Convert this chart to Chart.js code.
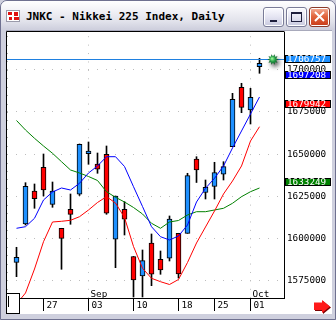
<!DOCTYPE html>
<html>
<head>
<meta charset="utf-8">
<title>JNKC - Nikkei 225 Index, Daily</title>
<script src="https://cdn.jsdelivr.net/npm/chart.js@4.4.1/dist/chart.umd.min.js"></script>
<style>
html,body{margin:0;padding:0;}
body{width:336px;height:320px;overflow:hidden;position:relative;background:#cfd0de;}
#outer{position:absolute;left:0;top:0;width:334px;height:318px;border:1px solid #6f7190;border-radius:7px 7px 0 0;}
#titlebar{position:absolute;left:1px;top:1px;width:334px;height:28px;border-radius:6px 6px 0 0;
  background:linear-gradient(to bottom,#ffffff 0%,#f1f1f6 35%,#e0e1ea 75%,#cfd0de 100%);}
#ttl{position:absolute;left:26px;top:10px;font:bold 11px "DejaVu Sans Mono",monospace;line-height:13px;color:#000;white-space:pre;}
#icon{position:absolute;left:6px;top:10px;width:14px;height:12px;background:#fff;border:1px solid #9a9aaa;box-sizing:border-box;}
#icon i{position:absolute;background:#e01010;display:block;}
.btn{position:absolute;top:7px;width:21px;height:20px;box-sizing:border-box;border:1px solid #7a7c98;border-radius:3px;
  background:linear-gradient(to bottom,#fbfbff 0%,#e4e4f2 50%,#c8c9de 100%);box-shadow:inset 0 0 0 1px #fff;}
#bclose{left:309px;border-color:#8a3a2a;background:linear-gradient(to bottom,#f4b09a 0%,#e2673f 45%,#c83a18 100%);}
#client{position:absolute;left:6px;top:30px;width:326px;height:284px;background:#fff;border-top:1px solid #a8a9bb;box-sizing:border-box;}
canvas{position:absolute;left:0;top:0;}
#sbox{position:absolute;left:6px;top:293px;width:14px;height:21px;box-sizing:border-box;border:1px solid #000;background:#fff;}
#sbox i{position:absolute;left:1px;top:2px;width:1px;height:11px;background:#000;display:block;}
#arrow{position:absolute;left:313px;top:299px;}
</style>
</head>
<body>
<div id="outer"></div>
<div id="titlebar"></div>
<div id="icon"><i style="left:1px;top:1px;width:4px;height:3px"></i><i style="left:7px;top:1px;width:4px;height:4px"></i><i style="left:2px;top:6px;width:3px;height:3px"></i><i style="left:7px;top:6px;width:5px;height:3px"></i></div>
<div id="ttl">JNKC - Nikkei 225 Index, Daily</div>
<div class="btn" style="left:263px"><span style="position:absolute;left:6px;top:12px;width:7px;height:2px;background:#1e1e3c"></span></div>
<div class="btn" style="left:286px"><span style="position:absolute;left:4px;top:4px;width:11px;height:10px;box-sizing:border-box;border:1px solid #1e1e3c;border-top-width:2px"></span></div>
<div class="btn" id="bclose"><svg width="21" height="20" style="position:absolute;left:-1px;top:-1px"><path d="M6 5 L15 14 M15 5 L6 14" stroke="#fff" stroke-width="2"/></svg></div>
<div id="client"></div>
<canvas id="c" width="336" height="320"></canvas>
<div id="sbox"><i></i></div>
<svg id="arrow" width="20" height="16">
  <polygon points="2,4.5 10,4.5 10,2 18,8.5 10,15 10,12 2,12" fill="#7a0000"/>
  <polygon points="1,3.5 9,3.5 9,1 17,7.5 9,14 9,11 1,11" fill="#ff1a1a"/>
</svg>
<script>
// ---- data ----
const dates = ['08/22','08/23','08/24','08/27','08/28','08/29','08/30','08/31','09/03','09/04','09/05','09/06','09/07','09/10','09/11','09/12','09/13','09/14','09/18','09/19','09/20','09/21','09/25','09/26','09/27','09/28','10/01','10/02'];
const openP  = [1585750,1608490,1628090,1642160,1620190,1605940,1617220,1626130,1650240,1644120,1649880,1599410,1617220,1589200,1577620,1597210,1587530,1588130,1602970,1602970,1647090,1627200,1630760,1638010,1654400,1689670,1676190,1701900];
const highP  = [1594660,1633020,1632250,1650060,1633430,1605940,1626310,1656000,1657190,1650650,1654810,1625120,1621740,1589200,1593060,1602560,1592460,1613250,1602970,1638600,1648460,1634620,1645130,1645490,1686100,1692040,1689070,1706890];
const lowP   = [1577200,1607900,1617820,1625120,1618410,1581600,1608320,1625420,1643940,1638600,1614250,1582550,1601960,1565150,1565150,1571860,1578630,1586520,1576430,1602970,1633140,1623340,1623340,1634620,1654400,1674580,1667870,1697980];
const closeP = [1588720,1630880,1623520,1628680,1628090,1600000,1614250,1655820,1651840,1640980,1614850,1625120,1611290,1575240,1586700,1578630,1581180,1611460,1578800,1637180,1640560,1630290,1639080,1642520,1682540,1677790,1683730,1703920];
const maBlue  = [1605940,1606890,1611880,1622750,1627500,1629870,1628680,1632660,1638780,1642940,1648460,1648460,1642640,1630640,1618890,1606890,1600950,1598990,1601370,1607900,1621560,1629690,1635630,1642940,1653620,1663720,1673810,1683910];
const maRed   = [1560990,1567520,1581770,1597980,1609680,1610100,1610690,1612830,1616810,1621260,1624710,1620960,1612350,1595130,1582190,1576250,1574230,1572570,1575540,1585630,1597210,1606710,1616210,1626310,1634030,1642940,1657780,1666270];
const maGreen = [1669950,1664310,1659380,1654810,1650480,1645490,1640560,1638780,1636700,1634330,1627670,1624350,1621560,1618290,1614430,1608910,1605940,1609680,1610570,1613840,1615800,1615800,1616810,1617820,1620790,1624710,1627670,1629870];
const currentPrice = 1706757;
const tagValues = [1706757, 1697208, 1679942, 1633249];
const yTickValues = [1575000, 1600000, 1625000, 1650000, 1675000, 1700000];
const xTickIdx = [3, 8, 13, 18, 22, 26];
const monthIdx = [8, 26];
const monthNames = ['Sep', 'Oct'];
const yMin = 1564550, yMax = 1722500;
const xMin = -1.05556, xMax = 29.7222;
const markerIndex = 28.5;
const minorStep = 5000;

// ---- styles ----
const upColor = '#1e90ff', downColor = '#ff0000';
const tagColors = ['#1e90ff', '#0000ff', '#ff0000', '#008000'];
const FONT = '"DejaVu Sans Mono", monospace';
const FSIZE = 9.3;

const idx = dates.map((d, i) => i);
const wickData = idx.map(i => ({x: i, y: [lowP[i], highP[i]]}));
const bodyData = idx.map(i => ({x: i, y: [openP[i], closeP[i]]}));
const bodyColors = idx.map(i => closeP[i] >= openP[i] ? upColor : downColor);
const line = (arr) => idx.map(i => ({x: i, y: arr[i]}));

function drawStar(ctx, x, y) {
  ctx.save();
  ctx.shadowColor = 'rgba(0,0,0,0.6)'; ctx.shadowBlur = 4; ctx.shadowOffsetX = 2; ctx.shadowOffsetY = 3;
  ctx.beginPath();
  const n = 10;
  for (let k = 0; k < 2 * n; k++) {
    const r = k % 2 ? 3.3 : 5.6; const a = k * Math.PI / n;
    ctx.lineTo(x + r * Math.cos(a), y + r * Math.sin(a));
  }
  ctx.closePath();
  const g = ctx.createRadialGradient(x - 1, y - 1, 0.5, x, y, 5.6);
  g.addColorStop(0, '#8fef8f'); g.addColorStop(0.45, '#239a45'); g.addColorStop(1, '#0a4a1c');
  ctx.fillStyle = g; ctx.fill();
  ctx.restore();
}

const overlay = {
  id: 'overlay',
  afterDatasetsDraw(chart) {
    const {ctx, chartArea: a, scales: {x, y}} = chart;
    ctx.save();
    const py = Math.round(y.getPixelForValue(currentPrice)) + 0.5;
    ctx.strokeStyle = '#1f80e0'; ctx.lineWidth = 1;
    ctx.beginPath(); ctx.moveTo(a.left, py); ctx.lineTo(a.right, py); ctx.stroke();
    drawStar(ctx, x.getPixelForValue(markerIndex), py);
    ctx.restore();
  },
  afterDraw(chart) {
    const {ctx, chartArea: a, scales: {x, y}} = chart;
    ctx.save();
    // minor tick dots along the left border
    ctx.fillStyle = '#b0b0b0';
    for (let v = Math.ceil(yMin / minorStep) * minorStep; v < yMax; v += minorStep) {
      ctx.fillRect(a.left, Math.round(y.getPixelForValue(v)), 1, 1);
    }
    ctx.strokeStyle = '#000'; ctx.lineWidth = 1;
    ctx.beginPath();
    ctx.moveTo(a.left - 0.5, a.bottom + 0.5); ctx.lineTo(a.left - 0.5, a.top - 0.5); ctx.lineTo(a.right + 0.5, a.top - 0.5);
    ctx.stroke();
    ctx.font = FSIZE + 'px ' + FONT; ctx.fillStyle = '#000'; ctx.textAlign = 'left'; ctx.textBaseline = 'alphabetic';
    monthIdx.forEach((i, k) => ctx.fillText(monthNames[k], x.getPixelForValue(i) + 2, a.bottom - 1.5));
    tagValues.forEach((v, k) => {
      const py = y.getPixelForValue(v);
      const top = Math.round(py) - 4;
      ctx.fillStyle = tagColors[k];
      ctx.fillRect(a.right + 1, top, 46, 8);
      ctx.strokeStyle = '#000';
      ctx.strokeRect(a.right + 1.5, top + 0.5, 45, 7);
      ctx.fillStyle = '#fff'; ctx.textBaseline = 'middle';
      ctx.fillText(String(v), a.right + 3, top + 4.2);
    });
    ctx.restore();
  }
};

const plotH = 266;
const px5000 = plotH * minorStep / (yMax - yMin);
const firstDot = (yMax - Math.floor(yMax / minorStep) * minorStep) / (yMax - yMin) * plotH;

new Chart(document.getElementById('c'), {
  type: 'bar',
  data: {
    datasets: [
      {type: 'line', data: line(maBlue), borderColor: '#0000ff', borderWidth: 1, pointRadius: 0, tension: 0, order: 0},
      {type: 'line', data: line(maRed), borderColor: '#ff0000', borderWidth: 1, pointRadius: 0, tension: 0, order: 0},
      {type: 'line', data: line(maGreen), borderColor: '#008000', borderWidth: 1, pointRadius: 0, tension: 0, order: 0},
      {type: 'bar', data: bodyData, backgroundColor: bodyColors, borderColor: '#000', borderWidth: 1, borderSkipped: false, barThickness: 5, grouped: false, order: 1},
      {type: 'bar', data: wickData, backgroundColor: '#000', borderWidth: 0, barThickness: 1, grouped: false, order: 2}
    ]
  },
  options: {
    responsive: false, animation: false, devicePixelRatio: 1,
    layout: {padding: {left: 7, top: 32, right: 4, bottom: 8}},
    plugins: {legend: {display: false}, tooltip: {enabled: false}},
    scales: {
      x: {
        type: 'linear', min: xMin, max: xMax, offset: false, position: 'bottom',
        afterBuildTicks: s => { s.ticks = xTickIdx.map(v => ({value: v})); },
        afterFit: s => { s.height = 14; },
        ticks: {autoSkip: false, maxRotation: 0, minRotation: 0, align: 'start', labelOffset: 3, padding: -10.6,
          color: '#000', font: {family: FONT, size: FSIZE},
          callback: v => dates[v] ? dates[v].slice(3) : ''},
        grid: {offset: false, color: c => (c.tick && monthIdx.includes(c.tick.value)) ? '#bdbdbd' : 'rgba(0,0,0,0)',
          lineWidth: 1, drawTicks: true, tickLength: 13, tickColor: '#000', tickWidth: 1},
        border: {display: true, color: '#000', width: 1, dash: [1, px5000 - 1], dashOffset: px5000 - firstDot}
      },
      y: {
        type: 'linear', position: 'right', min: yMin, max: yMax,
        afterBuildTicks: s => { s.ticks = yTickValues.map(v => ({value: v})); },
        afterFit: s => { s.width = 48; },
        ticks: {padding: 3, color: '#000', font: {family: FONT, size: FSIZE}, callback: v => String(v)},
        grid: {color: '#bdbdbd', lineWidth: 1, drawTicks: false, tickLength: 0},
        border: {display: true, color: '#000', width: 1, dash: [1, 8], dashOffset: 0}
      }
    }
  },
  plugins: [overlay]
});
</script>
</body>
</html>
